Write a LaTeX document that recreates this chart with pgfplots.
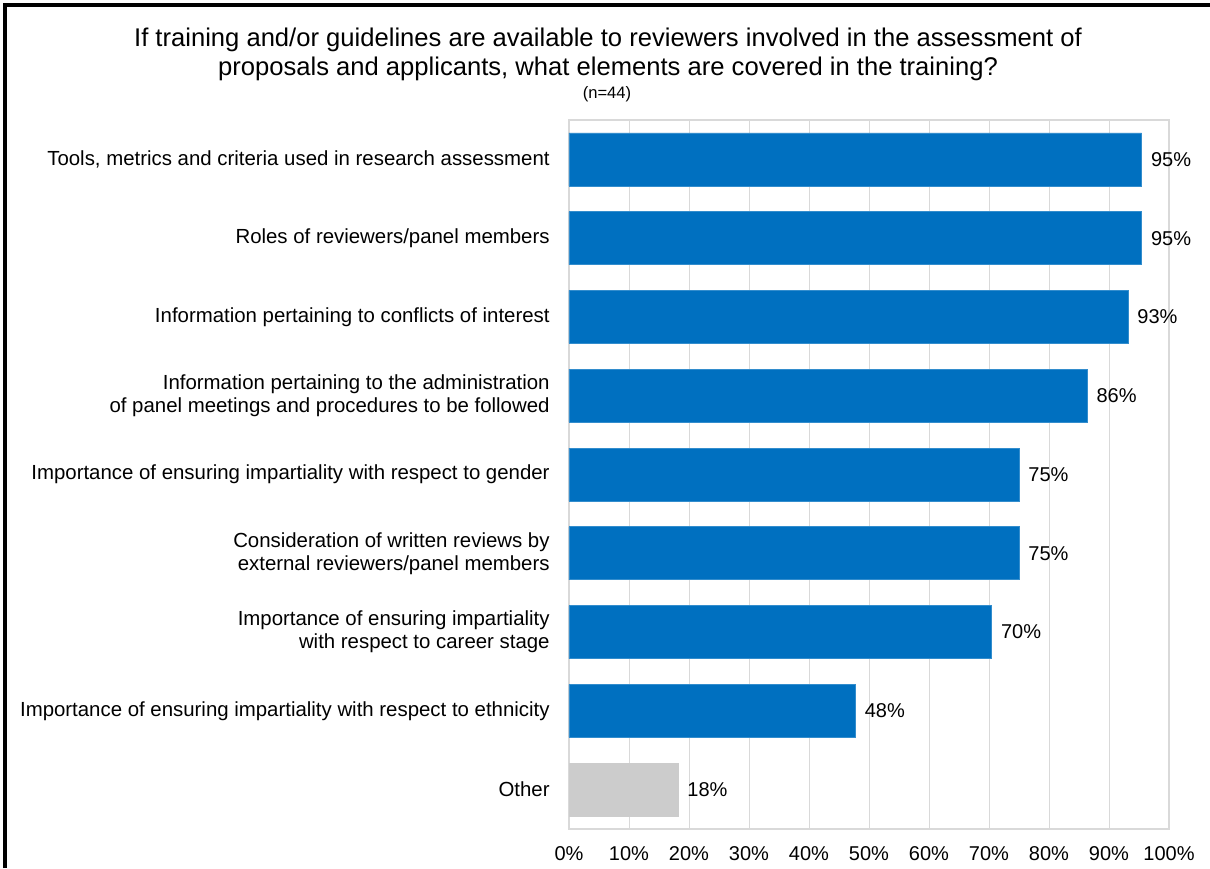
\documentclass[border=0pt]{standalone}
\usepackage{pgfplots}
\pgfplotsset{compat=1.18}
\usepackage{fontspec}
\setmainfont{Liberation Sans}
\definecolor{barblue}{HTML}{0070C0}
\definecolor{othergray}{HTML}{CCCCCC}
\definecolor{gridgray}{HTML}{D9D9D9}
\begin{document}
\begin{tikzpicture}
\useasboundingbox (0,0) rectangle (605pt,434pt);
\draw[line width=1.6pt] (2.5pt,0) -- (2.5pt,431.5pt) -- (605pt,431.5pt);
\node[align=center, font=\fontsize{12.8}{15}\selectfont, anchor=base] at (304pt,410.5pt) {If training and/or guidelines are available to reviewers involved in the assessment of};
\node[align=center, font=\fontsize{12.8}{15}\selectfont, anchor=base] at (304pt,396pt) {proposals and applicants, what elements are covered in the training?};
\node[font=\fontsize{8.3}{10}\selectfont, anchor=base] at (303.5pt,384.5pt) {(n=44)};
\begin{axis}[
  at={(284.5pt,19.5pt)}, anchor=south west,
  scale only axis, width=300pt, height=354.5pt,
  xbar, bar width=26.5pt, bar shift=0pt,
  xmin=0, xmax=100, ymin=-0.5, ymax=8.5, y dir=reverse,
  xtick={0,10,...,100},
  xticklabels={0\%,10\%,20\%,30\%,40\%,50\%,60\%,70\%,80\%,90\%,100\%},
  ytick={0,...,8},
  yticklabels={
    {Tools, metrics and criteria used in research assessment},
    {Roles of reviewers/panel members},
    {Information pertaining to conflicts of interest},
    {Information pertaining to the administration\\of panel meetings and procedures to be followed},
    {Importance of ensuring impartiality with respect to gender},
    {Consideration of written reviews by\\external reviewers/panel members},
    {Importance of ensuring impartiality\\with respect to career stage},
    {Importance of ensuring impartiality with respect to ethnicity},
    {Other}},
  yticklabel style={align=right, font=\fontsize{10.2}{11.5}\selectfont, inner sep=0pt, xshift=-9.5pt},
  xticklabel style={font=\fontsize{10}{11}\selectfont, inner sep=0pt, yshift=-8.5pt},
  major tick length=0pt,
  xmajorgrids, grid style={gridgray, line width=0.5pt},
  axis line style={gridgray, line width=0.8pt},
  point meta=explicit symbolic,
  nodes near coords,
  nodes near coords style={font=\fontsize{10}{11}\selectfont, anchor=west, inner sep=0pt, xshift=4.5pt},
]
\addplot[fill=barblue, draw=barblue!80!white, line width=0.4pt] coordinates {
  (95.45,0) [95\%]
  (95.45,1) [95\%]
  (93.18,2) [93\%]
  (86.36,3) [86\%]
  (75.00,4) [75\%]
  (75.00,5) [75\%]
  (70.45,6) [70\%]
  (47.73,7) [48\%]
};
\addplot[fill=othergray, draw=othergray, line width=0.4pt] coordinates {
  (18.18,8) [18\%]
};
\end{axis}
\end{tikzpicture}
\end{document}
